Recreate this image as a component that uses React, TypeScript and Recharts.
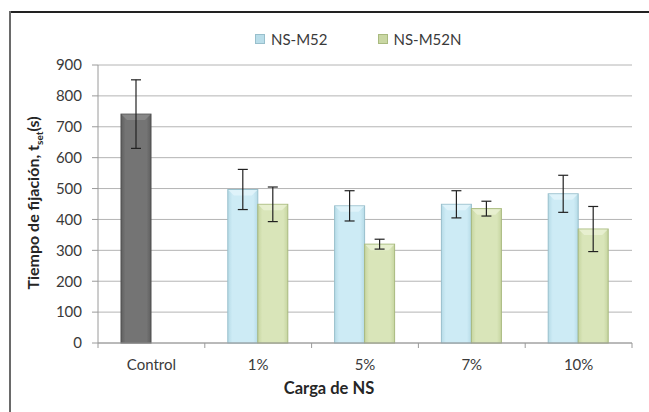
import React from 'react';
import { BarChart, Bar, XAxis, YAxis, CartesianGrid, ErrorBar } from 'recharts';

// categories on the x axis
const categories = ['Control', '1%', '5%', '7%', '10%'];
// first slot: Control (only category 0) and NS-M52 for the rest
const m52 = [741, 497, 444, 449, 483];
const m52Err = [111, 65, 49, 44, 60];
// second slot: NS-M52N
const m52n = [null, 449, 320, 435, 369];
const m52nErr = [null, 56, 16, 24, 73];
const yTicks = [0, 100, 200, 300, 400, 500, 600, 700, 800, 900];

const data = categories.map((c, i) => ({
  name: c,
  m52: m52[i],
  m52Err: m52Err[i],
  m52n: m52n[i],
  m52nErr: m52nErr[i],
}));

const FONT = 'Lato, "Open Sans", sans-serif';

const PAL = {
  control: { id: 'gCtrl', edge: '#4e4e4e', side: '#5f5f5f', mid: '#747474', top: '#8c8c8c' },
  m52: { id: 'gBlue', edge: '#98bfcc', side: '#b6dbe7', mid: '#cdebf5', top: '#e4f5fb' },
  m52n: { id: 'gGreen', edge: '#a9ba7f', side: '#c6d5a0', mid: '#d9e5b9', top: '#eaf1d4' },
};

const W = 649;
const H = 412;
const PLOT_L = 98;
const PLOT_R = 632;
const band = (PLOT_R - PLOT_L) / categories.length;

const makeShape = (key: 'm52' | 'm52n') => (props: any) => {
  const { x, y, width, height, index } = props;
  if (height == null || height <= 0 || width == null) return null;
  const pal = key === 'm52' && index === 0 ? PAL.control : PAL[key];
  const b = Math.min(6, height / 2);
  return (
    <g>
      <rect x={x} y={y} width={width} height={height} fill={`url(#${pal.id})`} stroke={pal.edge} strokeWidth={1} />
      <polygon
        points={`${x + 0.5},${y + 0.5} ${x + width - 0.5},${y + 0.5} ${x + width - b},${y + b} ${x + b},${y + b}`}
        fill={pal.top}
        opacity={0.8}
      />
    </g>
  );
};

const CatTick = (props: any) => {
  const { x, y, payload, index } = props;
  const left = x - band / 2;
  return (
    <g>
      <line x1={left} x2={left} y1={y} y2={y + 5} stroke="#9a9a9a" />
      {index === categories.length - 1 && (
        <line x1={x + band / 2} x2={x + band / 2} y1={y} y2={y + 5} stroke="#9a9a9a" />
      )}
      <text x={x} y={y + 27} textAnchor="middle" fontSize={15} fontFamily={FONT} fill="#3a3a3a">
        {payload.value}
      </text>
    </g>
  );
};

export default function App() {
  return (
    <div style={{ position: 'absolute', left: 0, top: 0, width: W, height: H, background: '#fff', fontFamily: FONT }}>
      <div style={{ position: 'absolute', left: 9, top: 11, width: W - 9, height: 2, background: '#222' }} />
      <div style={{ position: 'absolute', left: 9, top: 11, width: 2, height: H - 11, background: '#6a6a6a' }} />
      <div style={{ position: 'absolute', left: 255, top: 30, display: 'flex', alignItems: 'center', fontSize: 15, color: '#3a3a3a' }}>
        <span style={{ width: 8, height: 8, background: '#b9dde9', border: '1px solid #98bfcc', marginRight: 6 }} />
        <span style={{ marginRight: 50 }}>NS-M52</span>
        <span style={{ width: 8, height: 8, background: '#c9d7a3', border: '1px solid #a9ba7f', marginRight: 6 }} />
        <span>NS-M52N</span>
      </div>
      <BarChart
        width={W}
        height={H}
        data={data}
        margin={{ top: 65, right: W - PLOT_R, bottom: 0, left: 48 }}
        barSize={30}
        barGap={0}
      >
        <defs>
          {Object.values(PAL).map((p) => (
            <linearGradient key={p.id} id={p.id} x1="0" y1="0" x2="1" y2="0">
              <stop offset="0%" stopColor={p.side} />
              <stop offset="15%" stopColor={p.mid} />
              <stop offset="85%" stopColor={p.mid} />
              <stop offset="100%" stopColor={p.side} />
            </linearGradient>
          ))}
        </defs>
        <CartesianGrid vertical={false} stroke="#b4b4b4" />
        <XAxis
          dataKey="name"
          height={69}
          tickSize={0}
          tickMargin={0}
          tickLine={false}
          axisLine={{ stroke: '#9a9a9a' }}
          tick={<CatTick />}
          interval={0}
          label={{
            content: () => (
              <text x={329} y={394} textAnchor="middle" fontSize={16.5} fontWeight="bold" fontFamily={FONT} fill="#262626">
                Carga de NS
              </text>
            ),
          }}
        />
        <YAxis
          width={50}
          domain={[0, 900]}
          ticks={yTicks}
          interval={0}
          tickSize={6}
          tickMargin={10}
          tick={{ fontSize: 15, fill: '#3a3a3a', fontFamily: FONT }}
          tickLine={{ stroke: '#9a9a9a' }}
          axisLine={{ stroke: '#9a9a9a' }}
          label={{
            content: () => (
              <text
                x={0}
                y={0}
                transform="translate(39,203) rotate(-90)"
                textAnchor="middle"
                fontSize={16}
                fontWeight="bold"
                fontFamily={FONT}
                fill="#262626"
              >
                Tiempo de fijación, t
                <tspan fontSize={10} dy={4}>set</tspan>
                <tspan dy={-4}>(s)</tspan>
              </text>
            ),
          }}
        />
        <Bar dataKey="m52" name="NS-M52" shape={makeShape('m52')} isAnimationActive={false}>
          <ErrorBar dataKey="m52Err" width={5} stroke="#222" strokeWidth={1.2} />
        </Bar>
        <Bar dataKey="m52n" name="NS-M52N" shape={makeShape('m52n')} isAnimationActive={false}>
          <ErrorBar dataKey="m52nErr" width={5} stroke="#222" strokeWidth={1.2} />
        </Bar>
      </BarChart>
    </div>
  );
}
